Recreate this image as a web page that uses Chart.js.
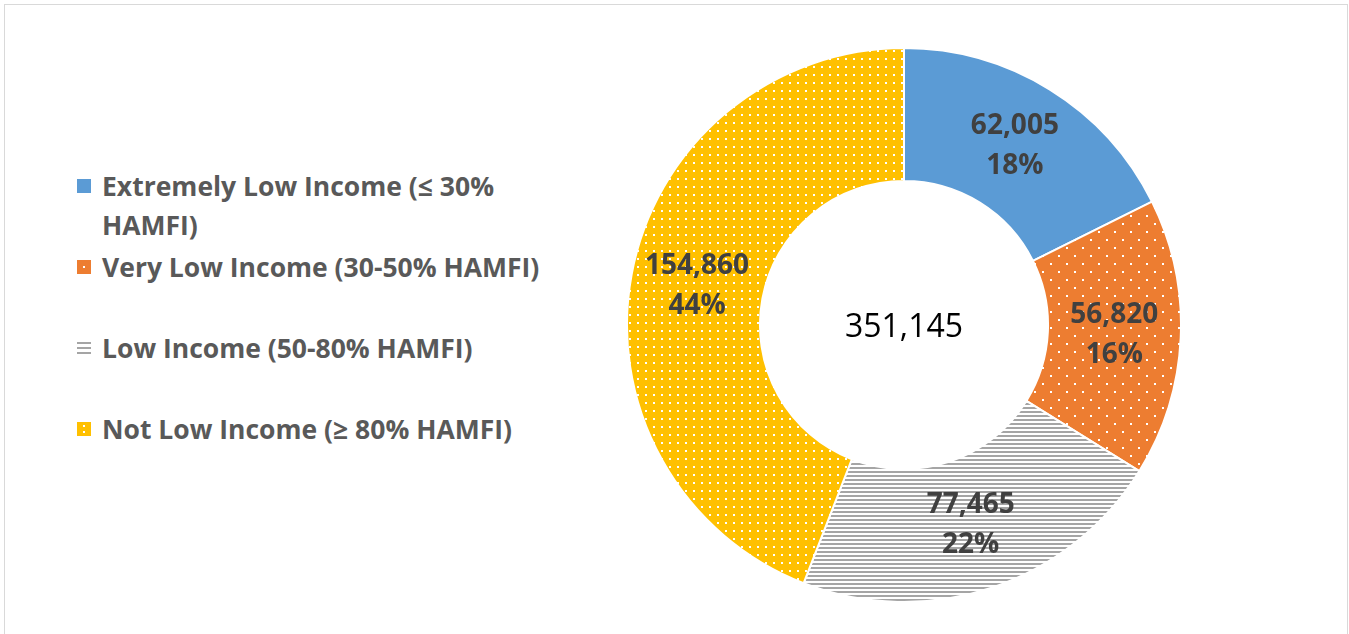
<!DOCTYPE html>
<html>
<head>
<meta charset="utf-8">
<script src="https://cdn.jsdelivr.net/npm/chart.js@4.4.1/dist/chart.umd.min.js"></script>
<style>
    html, body { margin: 0; padding: 0; background: #fff; }
    body { width: 1349px; height: 634px; position: relative; overflow: hidden; font-family: "Open Sans", sans-serif; }
    #frame { position: absolute; left: 4px; top: 4px; width: 1342px; height: 700px; border: 1px solid #D9D9D9; }
    #chart-box { position: absolute; left: 626px; top: 47px; width: 556px; height: 556px; }
    #legend { position: absolute; left: 0; top: 0; }
    .legend-item { position: absolute; left: 77px; width: 500px; }
    .legend-item canvas { position: absolute; left: 0; top: 12px; }
    .legend-item span { position: absolute; left: 25px; width: 470px; font-weight: 700; font-size: 26.5px; line-height: 39px; color: #595959; }
</style>
</head>
<body>
<div id="frame"></div>
<div id="legend"></div>
<div id="chart-box"><canvas id="incomeChart" width="556" height="556"></canvas></div>
<script>
// --- data ---
const categories = [
    'Extremely Low Income (≤ 30% HAMFI)',
    'Very Low Income (30-50% HAMFI)',
    'Low Income (50-80% HAMFI)',
    'Not Low Income (≥ 80% HAMFI)'
];
const households = [62005, 56820, 77465, 154860];
const totalLabel = '351,145';
const sliceColors = ['#5B9BD5', '#ED7D31', '#A5A5A5', '#FFC000'];
const fillKinds = ['solid', 'sparseDots', 'stripes', 'denseDots'];

// --- pattern fills (Excel style) ---
function makePattern(kind, color) {
    if (kind === 'solid') return color;
    const tile = document.createElement('canvas');
    const c = tile.getContext('2d');
    if (kind === 'sparseDots') {
        tile.width = 16; tile.height = 16;
        c.fillStyle = color; c.fillRect(0, 0, 16, 16);
        c.fillStyle = '#fff';
        c.fillRect(0, 0, 2, 2);
        c.fillRect(8, 8, 2, 2);
    } else if (kind === 'denseDots') {
        tile.width = 8; tile.height = 8;
        c.fillStyle = color; c.fillRect(0, 0, 8, 8);
        c.fillStyle = '#fff';
        c.fillRect(3, 3, 2, 2);
    } else if (kind === 'stripes') {
        tile.width = 4; tile.height = 4;
        c.fillStyle = '#fff'; c.fillRect(0, 0, 4, 4);
        c.fillStyle = color; c.fillRect(0, 0, 4, 2);
    }
    return c.createPattern(tile, 'repeat');
}

function drawSwatch(canvas, kind, color) {
    const c = canvas.getContext('2d');
    if (kind === 'stripes') {
        c.fillStyle = color;
        [1, 6, 11].forEach(y => c.fillRect(0, y, 14, 2));
        return;
    }
    c.fillStyle = color;
    c.fillRect(0, 0, 14, 14);
    c.fillStyle = '#fff';
    if (kind === 'sparseDots') c.fillRect(6, 6, 2, 2);
    if (kind === 'denseDots') { c.fillRect(6, 3, 2, 2); c.fillRect(6, 9, 2, 2); }
}

// --- legend (html) ---
const legendEl = document.getElementById('legend');
categories.forEach((label, i) => {
    const item = document.createElement('div');
    item.className = 'legend-item';
    item.style.top = (167 + 81 * i) + 'px';
    const sw = document.createElement('canvas');
    sw.width = 14; sw.height = 14;
    drawSwatch(sw, fillKinds[i], sliceColors[i]);
    const txt = document.createElement('span');
    txt.textContent = label;
    item.appendChild(sw);
    item.appendChild(txt);
    legendEl.appendChild(item);
});

// --- labels on slices + center total ---
const sum = households.reduce((a, b) => a + b, 0);
const sliceLabels = {
    id: 'sliceLabels',
    afterDatasetsDraw(chart) {
        const ctx = chart.ctx;
        const meta = chart.getDatasetMeta(0);
        ctx.save();
        ctx.textAlign = 'center';
        ctx.textBaseline = 'middle';
        ctx.fillStyle = '#404040';
        ctx.font = 'bold 28px "Open Sans"';
        meta.data.forEach((arc, i) => {
            const pos = arc.tooltipPosition();
            const v = households[i];
            ctx.fillText(v.toLocaleString('en-US'), pos.x, pos.y - 20);
            ctx.fillText(Math.round(v / sum * 100) + '%', pos.x, pos.y + 20);
        });
        const a0 = meta.data[0];
        ctx.fillStyle = '#000';
        ctx.font = '32px "Open Sans"';
        ctx.fillText(totalLabel, a0.x, a0.y + 3);
        ctx.restore();
    }
};

const ctx = document.getElementById('incomeChart').getContext('2d');
new Chart(ctx, {
    type: 'doughnut',
    data: {
        labels: categories,
        datasets: [{
            data: households,
            backgroundColor: sliceColors.map((col, i) => makePattern(fillKinds[i], col)),
            borderColor: '#fff',
            borderWidth: 2
        }]
    },
    options: {
        responsive: false,
        animation: false,
        cutout: '52%',
        layout: { padding: 0 },
        plugins: {
            legend: { display: false },
            tooltip: { enabled: false }
        }
    },
    plugins: [sliceLabels]
});
</script>
</body>
</html>
